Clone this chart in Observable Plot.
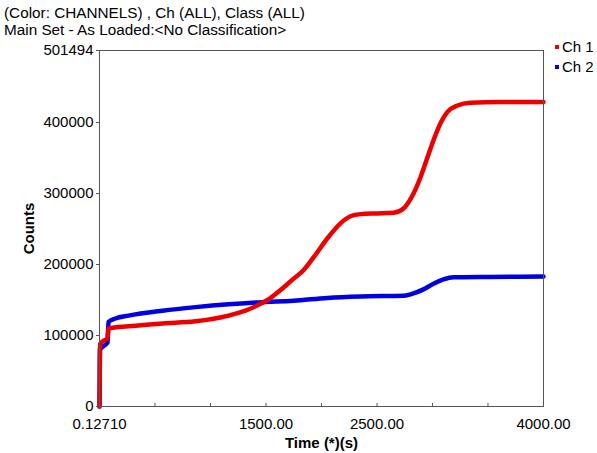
<!DOCTYPE html>
<html>
<head>
<meta charset="utf-8">
<script src="https://cdn.jsdelivr.net/npm/d3@7"></script>
<script src="https://cdn.jsdelivr.net/npm/@observablehq/plot@0.6"></script>
<style>
  body { margin: 0; background: #fff; font-family: "Liberation Sans", Arial, sans-serif; }
  #wrap { position: relative; width: 597px; height: 453px; }
  #title { position: absolute; left: 4px; top: 4px; font-size: 15.3px; line-height: 17px; color: #000; }
  #legend { position: absolute; left: 555px; top: 37px; font-size: 15px; line-height: 20px; color: #000; }
  #legend .sw { display: inline-block; width: 4px; height: 4px; margin-right: 3px; vertical-align: middle; position: relative; top: -1px; }
  g[aria-label="x-axis label"] text, g[aria-label="y-axis label"] text { font-weight: bold; }
</style>
</head>
<body>
<div id="wrap">
  <div id="title">(Color: CHANNELS) , Ch (ALL), Class (ALL)<br>Main Set - As Loaded:&lt;No Classification&gt;</div>
  <div id="legend"></div>
</div>
<script>
const seriesNames = ["Ch 1", "Ch 2"];
const seriesColors = ["#ee0000", "#0000e0"];

const ch1Time = [0.1271, 2, 5, 30, 72, 81, 261, 568, 865, 1162, 1315, 1468, 1514, 1631, 1748, 1838, 1928, 2054, 2171, 2261, 2351, 2505, 2649, 2739, 2829, 2892, 2955, 3009, 3072, 3135, 3225, 3342, 3600, 4000];
const ch1Count = [0, 40000, 88000, 92000, 96000, 110000, 113000, 117000, 120000, 128000, 135000, 146000, 150000, 164000, 180000, 192000, 210000, 237000, 258000, 268000, 271000, 272000, 273000, 279000, 300000, 323000, 351000, 375000, 399000, 415000, 424000, 428000, 429000, 429000];

const ch2Time = [0.1271, 2, 4, 36, 72, 81, 144, 261, 568, 865, 1162, 1468, 1748, 2054, 2351, 2739, 2802, 2919, 3009, 3099, 3189, 3523, 4000];
const ch2Count = [0, 30000, 80000, 85000, 90000, 119000, 124000, 128000, 135000, 140000, 144000, 147000, 149000, 153000, 155000, 156000, 158000, 165000, 173000, 179000, 182000, 182500, 183000];

const xMinorTicks = [0, 500, 1000, 1500, 2000, 2500, 3000, 3500, 4000];
const xLabelTicks = [0.1271, 1500, 2500, 4000];
const yTicks = [0, 100000, 200000, 300000, 400000, 501494];

const ch1 = ch1Time.map((t, i) => ({t, c: ch1Count[i], s: seriesNames[0]}));
const ch2 = ch2Time.map((t, i) => ({t, c: ch2Count[i], s: seriesNames[1]}));

const fmtX = d => d < 1 ? d.toFixed(5) : d.toFixed(2);

const chart = Plot.plot({
  width: 597,
  height: 453,
  marginTop: 50,
  marginBottom: 47,
  marginLeft: 99,
  marginRight: 54,
  style: { fontFamily: '"Liberation Sans", Arial, sans-serif', fontSize: "15px", color: "#000", background: "#fff" },
  x: { domain: [0.1271, 4000] },
  y: { domain: [0, 501494] },
  marks: [
    Plot.line(ch2, {x: "t", y: "c", stroke: seriesColors[1], strokeWidth: 4.5, curve: "monotone-x", strokeLinejoin: "round"}),
    Plot.line(ch1, {x: "t", y: "c", stroke: seriesColors[0], strokeWidth: 4.5, curve: "monotone-x", strokeLinejoin: "round"}),
    Plot.frame({stroke: "#555", strokeWidth: 1}),
    Plot.axisX(xMinorTicks, {tickSize: -3, tickFormat: () => "", label: null, stroke: "#555"}),
    Plot.axisX(xLabelTicks, {tickSize: 0, tickPadding: 12, tickFormat: fmtX, label: "Time (*)(s)", labelArrow: "none", labelAnchor: "center", labelOffset: 41}),
    Plot.axisY(yTicks, {tickSize: 3, tickPadding: 3, tickFormat: d => String(d), label: "Counts", labelArrow: "none", labelAnchor: "center", labelOffset: 76, stroke: "#555"})
  ]
});
document.getElementById("wrap").prepend(chart);
chart.style.position = "absolute";
chart.style.left = "0";
chart.style.top = "0";

// strip any arrow left on axis labels
chart.querySelectorAll('g[aria-label="x-axis label"] text, g[aria-label="y-axis label"] text').forEach(t => {
  t.textContent = t.textContent.replace(/\s*[→↑←↓]\s*/g, "").trim();
});

const legend = document.getElementById("legend");
seriesNames.forEach((n, i) => {
  const row = document.createElement("div");
  row.innerHTML = `<span class="sw" style="background:${seriesColors[i]}"></span>${n}`;
  legend.appendChild(row);
});
</script>
</body>
</html>
